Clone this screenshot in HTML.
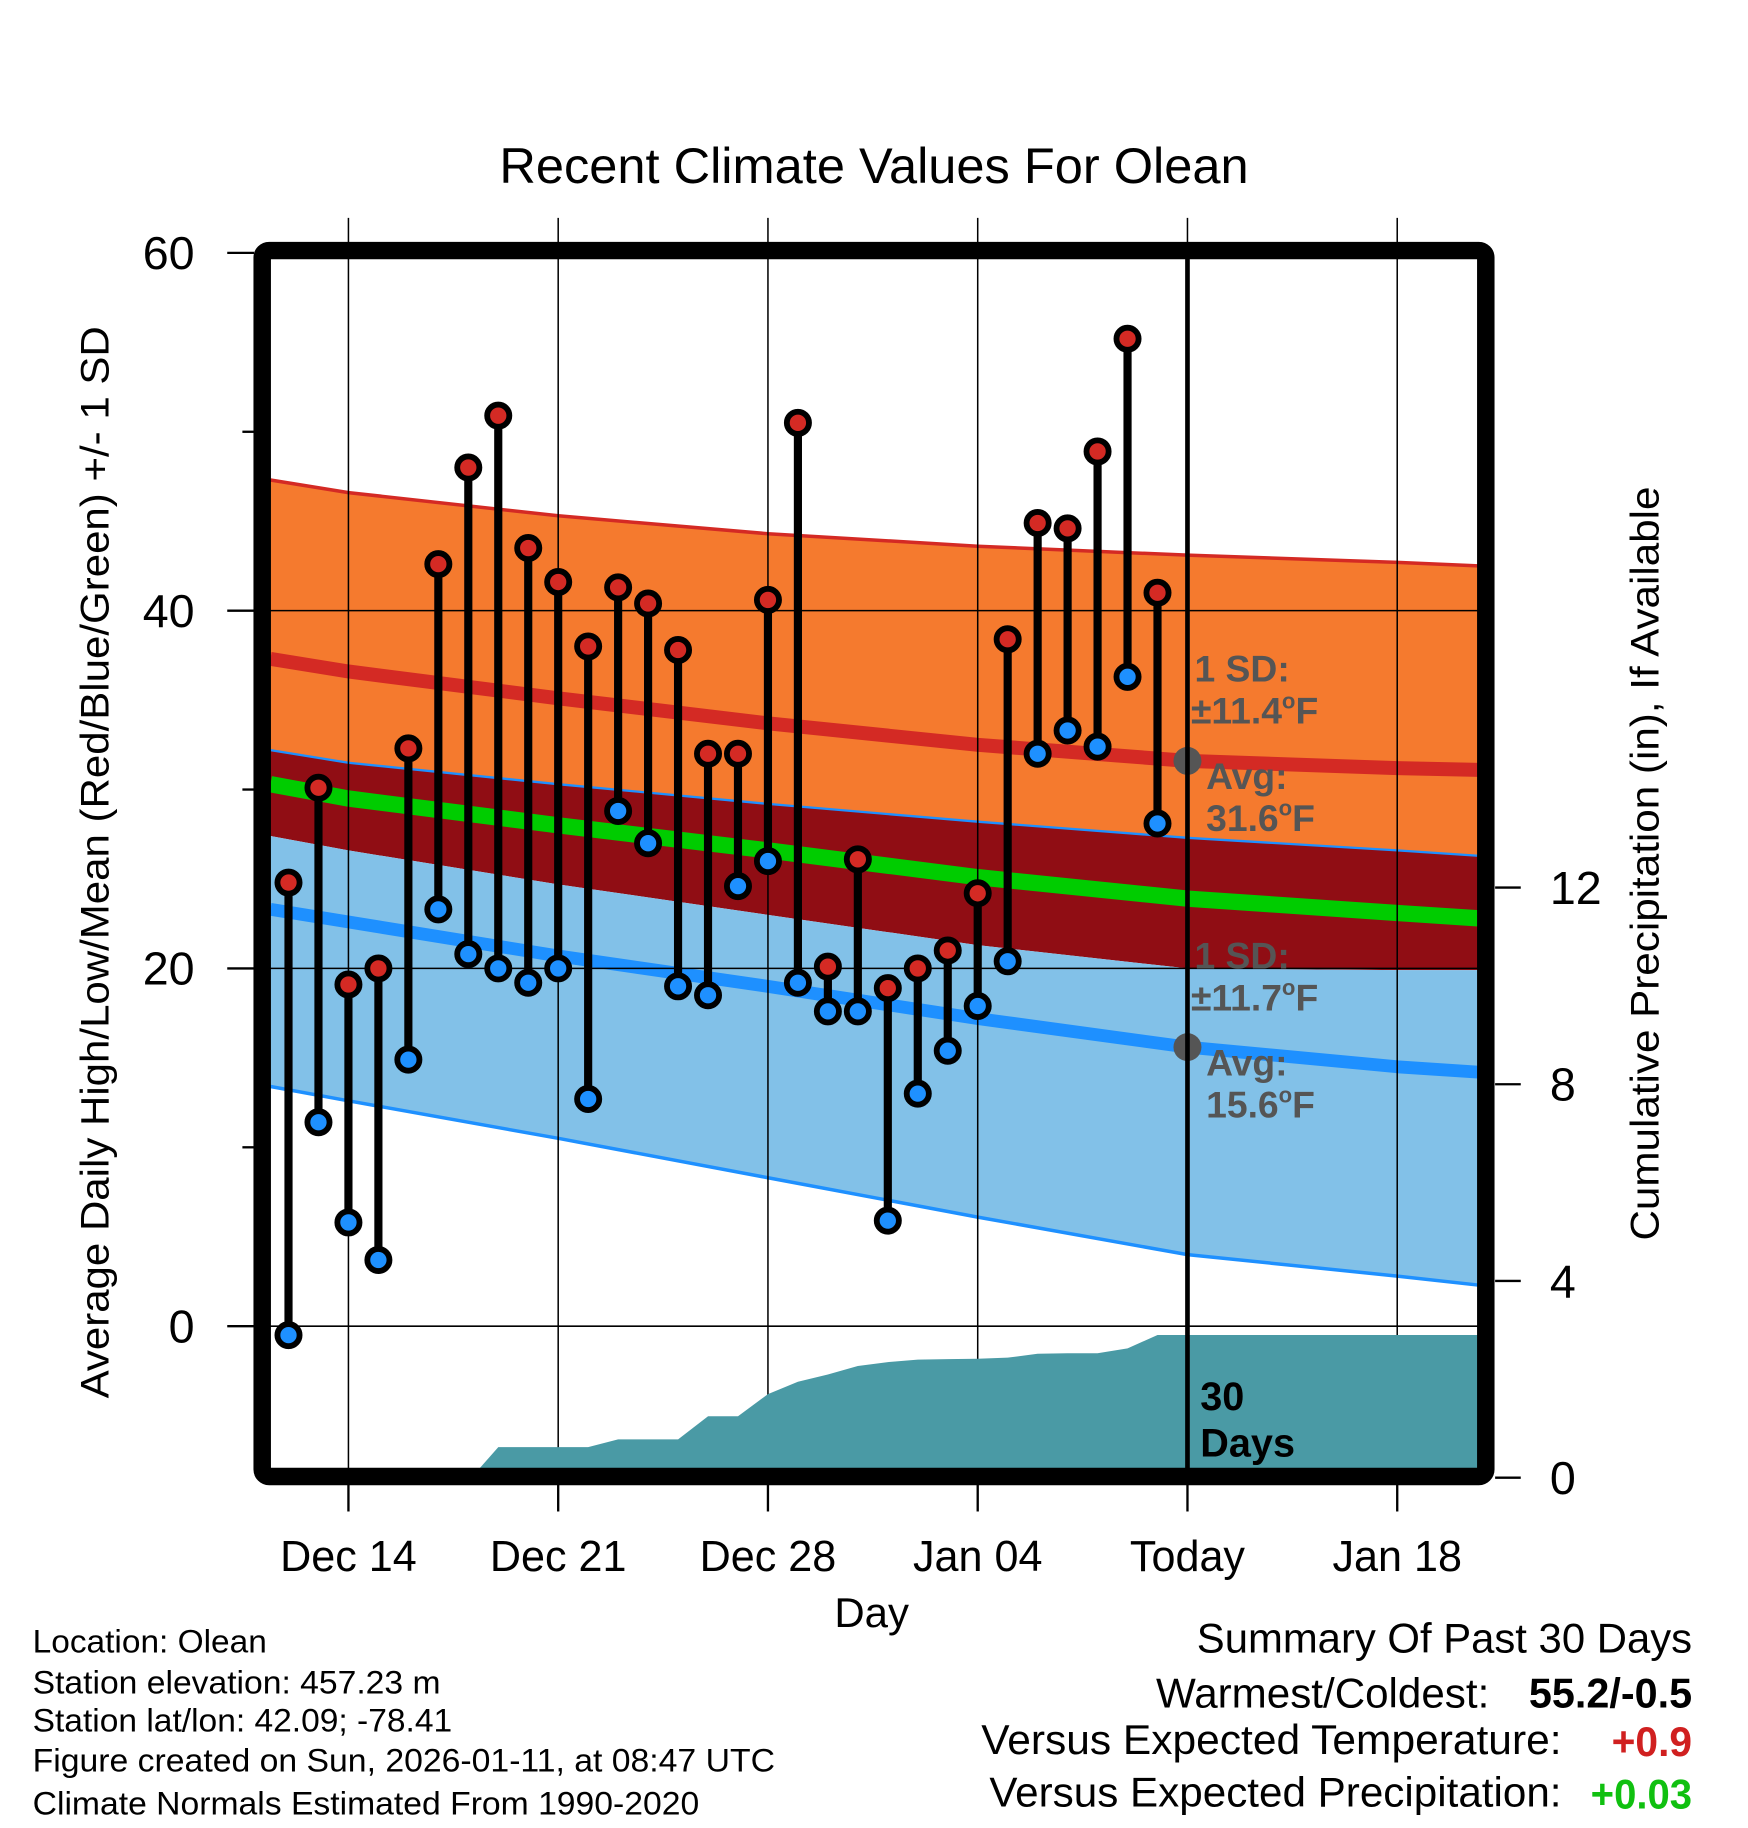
<!DOCTYPE html>
<html><head><meta charset="utf-8"><style>
html,body{margin:0;padding:0;background:#fff}
svg{display:block;font-family:"Liberation Sans",sans-serif}
</style></head><body>
<svg id="chart" width="1748" height="1828" viewBox="0 0 1500 1568.6" preserveAspectRatio="none" xmlns="http://www.w3.org/2000/svg">
<text x="750" y="157" font-size="43" text-anchor="middle" textLength="643" lengthAdjust="spacingAndGlyphs">Recent Climate Values For Olean</text>
<g id="bands"></g>
<g id="grid"></g>
<g id="precip"></g>
<g id="marks"></g>
<line x1="1019" y1="222" x2="1019" y2="1260" stroke="#000" stroke-width="4"/>
<rect x="225" y="215" width="1050" height="1052" rx="6" fill="none" stroke="#000" stroke-width="15"/>
<g id="axes"></g>
<g font-weight="bold" font-size="32" fill="#555">
<text x="1025" y="585">1 SD:</text>
<text x="1022" y="621">±11.4<tspan font-size="19" dy="-13">o</tspan><tspan dy="13">F</tspan></text>
<text x="1035" y="677">Avg:</text>
<text x="1035" y="713">31.6<tspan font-size="19" dy="-13">o</tspan><tspan dy="13">F</tspan></text>
<text x="1025" y="831">1 SD:</text>
<text x="1022" y="867">±11.7<tspan font-size="19" dy="-13">o</tspan><tspan dy="13">F</tspan></text>
<text x="1035" y="923">Avg:</text>
<text x="1035" y="959">15.6<tspan font-size="19" dy="-13">o</tspan><tspan dy="13">F</tspan></text>
</g>
<g font-weight="bold" font-size="34" fill="#000">
<text x="1030" y="1210">30</text><text x="1030" y="1250">Days</text>
</g>
<text transform="translate(93,740) rotate(-90)" font-size="34" text-anchor="middle" textLength="920" lengthAdjust="spacingAndGlyphs">Average Daily High/Low/Mean (Red/Blue/Green) +/- 1 SD</text>
<text transform="translate(1423,741) rotate(-90)" font-size="34" text-anchor="middle" textLength="647" lengthAdjust="spacingAndGlyphs">Cumulative Precipitation (in), If Available</text>
<text x="748" y="1396" font-size="36" text-anchor="middle">Day</text>
<g font-size="28" lengthAdjust="spacingAndGlyphs">
<text x="28" y="1418" textLength="201" lengthAdjust="spacingAndGlyphs">Location: Olean</text>
<text x="28" y="1453" textLength="350" lengthAdjust="spacingAndGlyphs">Station elevation: 457.23 m</text>
<text x="28" y="1486" textLength="360" lengthAdjust="spacingAndGlyphs">Station lat/lon: 42.09; -78.41</text>
<text x="28" y="1520" textLength="637" lengthAdjust="spacingAndGlyphs">Figure created on Sun, 2026-01-11, at 08:47 UTC</text>
<text x="28" y="1557" textLength="572" lengthAdjust="spacingAndGlyphs">Climate Normals Estimated From 1990-2020</text>
</g>
<g font-size="36">
<text x="1027" y="1418" textLength="425" lengthAdjust="spacingAndGlyphs">Summary Of Past 30 Days</text>
<text x="992" y="1465" textLength="286" lengthAdjust="spacingAndGlyphs">Warmest/Coldest:</text>
<text x="1312" y="1465" font-weight="bold" textLength="140" lengthAdjust="spacingAndGlyphs">55.2/-0.5</text>
<text x="842" y="1505" textLength="498" lengthAdjust="spacingAndGlyphs">Versus Expected Temperature:</text>
<text x="1383" y="1507" font-weight="bold" fill="#d02020" textLength="69" lengthAdjust="spacingAndGlyphs">+0.9</text>
<text x="849" y="1550" textLength="491" lengthAdjust="spacingAndGlyphs">Versus Expected Precipitation:</text>
<text x="1365" y="1552" font-weight="bold" fill="#10c010" textLength="87" lengthAdjust="spacingAndGlyphs">+0.03</text>
</g>
</svg>
<script>
// Days offset from Dec 11 (Dec 12 = 1)
const obsDays = [1,2,3,4,5,6,7,8,9,10,11,12,13,14,15,16,17,18,19,20,21,22,23,24,25,26,27,28,29,30];
const highs = [24.8,30.1,19.1,20,32.3,42.6,48,50.9,43.5,41.6,38,41.3,40.4,37.8,32,32,40.6,50.5,20.1,26.1,18.9,20,21,24.2,38.4,44.9,44.6,48.9,55.2,41.0];
const lows = [-0.5,11.4,5.8,3.7,14.9,23.3,20.8,20,19.2,20,12.7,28.8,27,19,18.5,24.6,26,19.2,17.6,17.6,5.9,13,15.4,17.9,20.4,32,33.3,32.4,36.3,28.1];
const precipDays = [1,7.1,8,11,12,14,15,16,17,18,19,20,21,22,23,24,25,26,27,28,29,30,40.7];
const precip = [0,0,0.62,0.62,0.78,0.78,1.25,1.25,1.7,1.95,2.1,2.27,2.35,2.4,2.41,2.42,2.44,2.52,2.53,2.53,2.63,2.9,2.9];
const normDays = [0.4,3,10,17,24,31,38,40.7];
const highMean = [37.3,36.6,35.1,33.7,32.5,31.6,31.2,31.1];
const highUp = [47.3,46.6,45.3,44.3,43.6,43.1,42.7,42.5];
const highDn = [32.2,31.5,30.3,29.2,28.2,27.3,26.6,26.3];
const meanLine = [30.3,29.5,28.0,26.6,25.1,23.9,23.1,22.8];
const lowUp = [27.4,26.6,24.7,23.0,21.3,20.0,19.9,19.9];
const lowMean = [23.3,22.6,20.7,19.0,17.2,15.6,14.5,14.2];
const lowDn = [13.4,12.6,10.5,8.3,6.1,4.0,2.8,2.3];
const yTicks = [0,20,40,60];
const yMinor = [10,30,50];
const y2Ticks = [0,4,8,12];
const xTickDays = [3,10,17,24,31,38];
const xTickLabels = ['Dec 14','Dec 21','Dec 28','Jan 04','Today','Jan 18'];

const NS='http://www.w3.org/2000/svg';
const X = d => 299 + (d-3)*25.714;
const Y = v => 1138 - v*15.35;
const Y2 = v => 1268 - v*42.2;
function mk(tag, attrs, parent){const e=document.createElementNS(NS,tag);for(const k in attrs)e.setAttribute(k,attrs[k]);parent.appendChild(e);return e;}
const pts = (arr)=>normDays.map((d,i)=>X(d).toFixed(1)+','+Y(arr[i]).toFixed(1));
function band(top,bot,fill,name){
  const p=pts(top).concat(pts(bot).reverse());
  const e=mk('polygon',{points:p.join(' '),fill:fill},document.getElementById('bands'));
  
  
}
function line(arr,color,w,name){
  const e=mk('polyline',{points:pts(arr).join(' '),fill:'none',stroke:color,'stroke-width':w},document.getElementById('bands'));
  
  
}
band(highUp,highDn,'#f57a2e','high-sd-band');
band(highDn,lowUp,'#900d14','overlap-band');
band(lowUp,lowDn,'#82c1e8','low-sd-band');
line(highUp,'#d42a24',3,'high-plus-sd-line');
line(highDn,'#1e90ff',2,'high-minus-sd-line');
line(lowDn,'#1e90ff',3,'low-minus-sd-line');
line(highMean,'#d42a24',12,'normal-high-line');
line(meanLine,'#00cc00',14,'normal-mean-line');
line(lowMean,'#1e90ff',11,'normal-low-line');

const grid=document.getElementById('grid');
xTickDays.forEach(d=>{
  const e=mk('line',{x1:X(d),x2:X(d),y1:187,y2:1260,stroke:'#000','stroke-width':1.3},grid);
  
  
});
yTicks.slice(0,3).forEach(v=>{
  const e=mk('line',{x1:232,x2:1268,y1:Y(v),y2:Y(v),stroke:'#000','stroke-width':1.3},grid);
  
  
});

// precipitation
const pp=precipDays.map((d,i)=>X(d).toFixed(1)+','+Y2(precip[i]).toFixed(1));
const pstr=[X(precipDays[0]).toFixed(1)+',1260'].concat(pp,[X(precipDays[precipDays.length-1]).toFixed(1)+',1260']).join(' ');
const pe=mk('polygon',{points:pstr,fill:'#4a9aa5'},document.getElementById('precip'));



// marks
const marks=document.getElementById('marks');
obsDays.forEach((d,i)=>{
  const x=X(d);
  const s=mk('line',{x1:x,x2:x,y1:Y(highs[i]),y2:Y(lows[i]),stroke:'#000','stroke-width':7},marks);
  
  
});
obsDays.forEach((d,i)=>{
  const x=X(d);
  const h=mk('circle',{cx:x,cy:Y(highs[i]),r:9.5,fill:'#d42a24',stroke:'#000','stroke-width':5},marks);
  
  
  const l=mk('circle',{cx:x,cy:Y(lows[i]),r:9.5,fill:'#1e90ff',stroke:'#000','stroke-width':5},marks);
  
  
});
const g1=mk('circle',{cx:X(31),cy:Y(31.6),r:12,fill:'#555'},marks);


const g2=mk('circle',{cx:X(31),cy:Y(15.6),r:12,fill:'#555'},marks);



// axes
const axes=document.getElementById('axes');
yTicks.forEach(v=>{
  const t=mk('line',{x1:195,x2:218,y1:Y(v),y2:Y(v),stroke:'#000','stroke-width':2},axes);
  
  
  const l=mk('text',{x:167,y:Y(v)+14,'font-size':40,'text-anchor':'end'},axes);
  l.textContent=v;
  
  
});
yMinor.forEach(v=>{
  const t=mk('line',{x1:208,x2:218,y1:Y(v),y2:Y(v),stroke:'#000','stroke-width':2},axes);
  
  
});
y2Ticks.forEach(v=>{
  const t=mk('line',{x1:1283,x2:1305,y1:Y2(v),y2:Y2(v),stroke:'#000','stroke-width':2},axes);
  
  
  const l=mk('text',{x:1330,y:Y2(v)+14,'font-size':40},axes);
  l.textContent=v;
  
  
});
xTickDays.forEach((d,i)=>{
  const t=mk('line',{x1:X(d),x2:X(d),y1:1274,y2:1297,stroke:'#000','stroke-width':2},axes);
  
  
  const l=mk('text',{x:X(d),y:1348,'font-size':37,'text-anchor':'middle'},axes);
  l.textContent=xTickLabels[i];
  
  
});
</script>
</body></html>
